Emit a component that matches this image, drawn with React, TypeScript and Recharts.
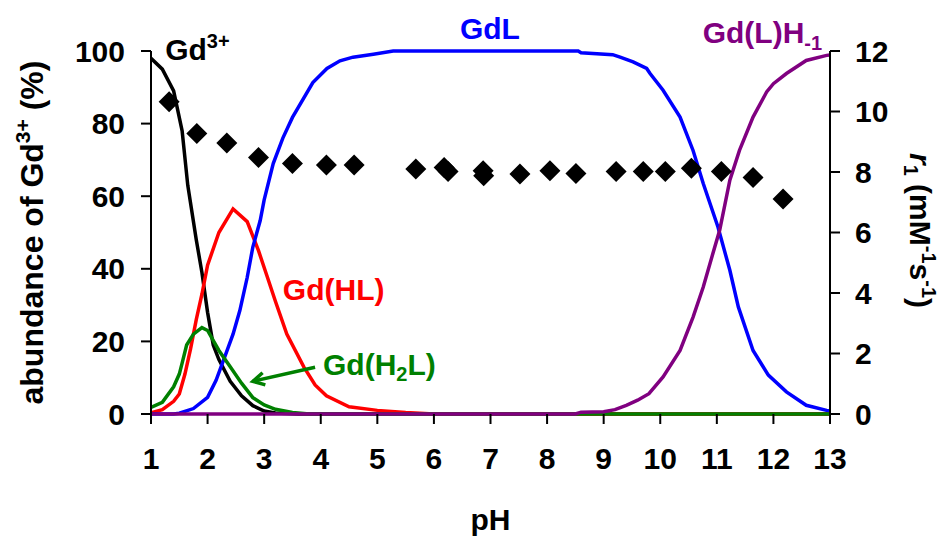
import {
  ComposedChart,
  Line,
  Scatter,
  XAxis,
  YAxis,
  ReferenceDot,
  ReferenceLine,
} from "recharts"

const FONT = "'Liberation Sans', Arial, sans-serif"

// axis ticks
const pHTicks = [1, 2, 3, 4, 5, 6, 7, 8, 9, 10, 11, 12, 13]
const abundanceTicks = [0, 20, 40, 60, 80, 100]
const r1Ticks = [0, 2, 4, 6, 8, 10, 12]

// Gd3+ (free)
const gdFreePH = [1.0, 1.2, 1.4, 1.55, 1.65, 1.8, 1.9, 2.0, 2.1, 2.2, 2.4, 2.6, 2.8, 3.0, 3.2, 3.6, 13.0]
const gdFree = [98, 95, 89, 78, 63, 48, 39, 28, 19, 15, 9, 5, 2.3, 0.8, 0.3, 0, 0]

// Gd(HL)
const gdHLPH = [1.0, 1.2, 1.4, 1.5, 1.6, 1.7, 1.8, 1.9, 2.0, 2.2, 2.45, 2.7, 2.9, 3.05, 3.2, 3.4, 3.7, 3.9, 4.1, 4.5, 5.0, 5.5, 6.0, 13.0]
const gdHL = [0.3, 1.2, 3.5, 5.5, 11, 18, 26, 33, 41, 50, 56.5, 53, 45, 38, 31, 22, 13, 8, 5, 2, 1, 0.4, 0, 0]

// Gd(H2L)
const gdH2LPH = [1.0, 1.2, 1.4, 1.5, 1.55, 1.63, 1.75, 1.9, 2.0, 2.2, 2.4, 2.6, 2.8, 3.0, 3.2, 3.5, 3.8, 13.0]
const gdH2L = [1.8, 3.2, 7.5, 11, 14, 19, 22, 23.8, 23, 17.5, 13, 8.5, 4.5, 2.5, 1.3, 0.4, 0, 0]

// GdL
const gdLPH = [1.0, 1.4, 1.5, 1.75, 2.0, 2.15, 2.3, 2.45, 2.57, 2.7, 2.8, 2.93, 3.0, 3.16, 3.33, 3.5, 3.86, 4.11, 4.34, 4.57, 4.93, 5.28, 8.55, 8.6, 9.16, 9.29, 9.52, 9.76, 9.82, 10.05, 10.35, 10.58, 10.76, 11.02, 11.23, 11.38, 11.64, 11.91, 12.23, 12.58, 12.94, 13.0]
const gdL = [0, 0, 0.2, 1.5, 4.6, 9.3, 15.6, 22, 28.5, 37.6, 46, 53.3, 59, 69, 76, 81.7, 91.3, 95.2, 97.3, 98.3, 99.1, 100, 100, 99.5, 99, 98.3, 97, 95.2, 93.8, 89.2, 81.8, 72.6, 63.5, 51.5, 39.6, 29.5, 17.5, 10.7, 6.1, 2.4, 1.0, 0.8]

// Gd(L)H-1
const gdLOHPH = [1.0, 8.5, 8.6, 9.0, 9.2, 9.4, 9.6, 9.8, 10.05, 10.35, 10.58, 10.76, 10.93, 11.05, 11.23, 11.4, 11.64, 11.88, 12.0, 12.23, 12.58, 12.94, 13.0]
const gdLOH = [0, 0, 0.5, 0.6, 1.2, 2.4, 3.8, 5.6, 10.2, 17.5, 26.7, 35, 44.2, 50.6, 64.4, 72.6, 81.8, 88.7, 91, 93.8, 97.4, 98.8, 98.9]

// relaxivity r1 (mM-1 s-1)
const r1PH = [1.32, 1.81, 2.34, 2.9, 3.5, 4.1, 4.59, 5.68, 6.18, 6.25, 6.87, 6.88, 7.52, 8.05, 8.51, 9.22, 9.7, 10.09, 10.55, 11.08, 11.64, 12.17]
const r1 = [10.32, 9.27, 8.96, 8.48, 8.28, 8.23, 8.23, 8.1, 8.15, 8.02, 8.04, 7.88, 7.93, 8.04, 7.95, 8.02, 8.02, 8.02, 8.12, 8.02, 7.82, 7.11]

const zip = (xs: number[], ys: number[]) => xs.map((pH, i) => ({ pH, v: ys[i] }))
const r1Data = r1PH.map((pH, i) => ({ pH, r1: r1[i] }))

const series = [
  { name: "Gd3+", data: zip(gdFreePH, gdFree), color: "#000000" },
  { name: "Gd(HL)", data: zip(gdHLPH, gdHL), color: "#ff0000" },
  { name: "GdL", data: zip(gdLPH, gdL), color: "#0000ff" },
  { name: "Gd(H2L)", data: zip(gdH2LPH, gdH2L), color: "#008000" },
  { name: "Gd(L)H-1", data: zip(gdLOHPH, gdLOH), color: "#800080" },
]

const textStyle = { fontFamily: FONT, fontWeight: 700 }

const Diamond = (props: any) => {
  const { cx, cy } = props
  const h = 10.5
  return (
    <polygon
      points={`${cx},${cy - h} ${cx + h},${cy} ${cx},${cy + h} ${cx - h},${cy}`}
      fill="#000"
    />
  )
}

// text annotation anchored at data coordinates
function note(key: string, x: number, y: number, color: string, anchor: string, body: any) {
  return (
    <ReferenceDot
      key={key}
      yAxisId="left"
      x={x}
      y={y}
      r={0}
      fill="none"
      stroke="none"
      ifOverflow="visible"
      label={{
        content: (p: any) => (
          <text
            x={p.viewBox.x}
            y={p.viewBox.y}
            fill={color}
            fontSize={30}
            textAnchor={anchor}
            style={textStyle}
          >
            {body}
          </text>
        ),
      }}
    />
  )
}

const Arrow = (props: any) => {
  const { x1, y1, x2, y2 } = props
  const a = Math.atan2(y2 - y1, x2 - x1)
  const L = 13
  const s = 0.5
  const p1 = [x2 - L * Math.cos(a - s), y2 - L * Math.sin(a - s)]
  const p2 = [x2 - L * Math.cos(a + s), y2 - L * Math.sin(a + s)]
  return (
    <g>
      <line x1={x1} y1={y1} x2={x2} y2={y2} stroke="#008000" strokeWidth={3.5} />
      <polyline
        points={`${p1[0]},${p1[1]} ${x2},${y2} ${p2[0]},${p2[1]}`}
        fill="none"
        stroke="#008000"
        strokeWidth={3.5}
      />
    </g>
  )
}

export default function App() {
  return (
    <div style={{ position: "absolute", left: 0, top: 0, width: 949, height: 537, background: "#fff" }}>
      <ComposedChart width={949} height={537} margin={{ top: 51, right: 0, bottom: 0, left: 0 }}>
        <XAxis
          dataKey="pH"
          type="number"
          domain={[1, 13]}
          ticks={pHTicks}
          allowDataOverflow
          height={123}
          tickSize={10}
          tickMargin={24}
          axisLine={false}
          tickLine={{ stroke: "#000", strokeWidth: 2 }}
          tick={{ fontSize: 30, fill: "#000", ...textStyle }}
          label={{
            content: (p: any) => (
              <text
                x={p.viewBox.x + p.viewBox.width / 2}
                y={p.viewBox.y + 116}
                textAnchor="middle"
                fontSize={30}
                fill="#000"
                style={textStyle}
              >
                pH
              </text>
            ),
          }}
        />
        <YAxis
          yAxisId="left"
          domain={[0, 100]}
          ticks={abundanceTicks}
          width={151}
          tickSize={10}
          tickMargin={16}
          axisLine={{ stroke: "#000", strokeWidth: 2 }}
          tickLine={{ stroke: "#000", strokeWidth: 2 }}
          tick={{ fontSize: 30, fill: "#000", ...textStyle }}
          label={{
            content: (p: any) => {
              const x = p.viewBox.x + 43
              const y = p.viewBox.y + p.viewBox.height / 2
              return (
                <text
                  x={x}
                  y={y}
                  transform={`rotate(-90, ${x}, ${y})`}
                  textAnchor="middle"
                  fontSize={32}
                  fill="#000"
                  style={textStyle}
                >
                  abundance of Gd
                  <tspan fontSize={21} dy={-13}>3+</tspan>
                  <tspan dy={13}> (%)</tspan>
                </text>
              )
            },
          }}
        />
        <YAxis
          yAxisId="right"
          orientation="right"
          domain={[0, 12]}
          ticks={r1Ticks}
          width={119}
          tickSize={10}
          tickMargin={15}
          axisLine={{ stroke: "#000", strokeWidth: 2 }}
          tickLine={{ stroke: "#000", strokeWidth: 2 }}
          tick={{ fontSize: 30, fill: "#000", ...textStyle }}
          label={{
            content: (p: any) => {
              const x = p.viewBox.x + 80
              const y = p.viewBox.y + p.viewBox.height / 2 - 2
              return (
                <text
                  x={x}
                  y={y}
                  transform={`rotate(90, ${x}, ${y})`}
                  textAnchor="middle"
                  fontSize={30}
                  fill="#000"
                  style={textStyle}
                >
                  <tspan fontStyle="italic">r</tspan>
                  <tspan fontSize={20} dy={6}>1</tspan>
                  <tspan dy={-6}> (mM</tspan>
                  <tspan fontSize={20} dy={-12}>-1</tspan>
                  <tspan dy={12}>s</tspan>
                  <tspan fontSize={20} dy={-12}>-1</tspan>
                  <tspan dy={12}>)</tspan>
                </text>
              )
            },
          }}
        />

        {series.map((s) => (
          <Line
            key={s.name}
            yAxisId="left"
            data={s.data}
            dataKey="v"
            type="linear"
            stroke={s.color}
            strokeWidth={3.5}
            dot={false}
            activeDot={false}
            isAnimationActive={false}
          />
        ))}

        <Scatter
          yAxisId="right"
          data={r1Data}
          dataKey="r1"
          shape={Diamond}
          isAnimationActive={false}
        />

        <ReferenceLine
          yAxisId="left"
          segment={[
            { x: 3.9, y: 12.9 },
            { x: 2.8, y: 9.0 },
          ]}
          ifOverflow="visible"
          shape={Arrow}
        />

        {note("free", 1.25, 97.4, "#000", "start", [
          "Gd",
          <tspan key="a" fontSize={20} dy={-12}>3+</tspan>,
        ])}
        {note("gdl", 6.99, 103.2, "#0000ff", "middle", "GdL")}
        {note("loh", 10.75, 102.1, "#800080", "start", [
          "Gd(L)H",
          <tspan key="a" fontSize={20} dy={7}>-1</tspan>,
        ])}
        {note("hl", 3.33, 31.3, "#ff0000", "start", "Gd(HL)")}
        {note("h2l", 4.04, 10.7, "#008000", "start", [
          "Gd(H",
          <tspan key="a" fontSize={20} dy={6}>2</tspan>,
          <tspan key="b" dy={-6}>L)</tspan>,
        ])}
      </ComposedChart>
    </div>
  )
}
